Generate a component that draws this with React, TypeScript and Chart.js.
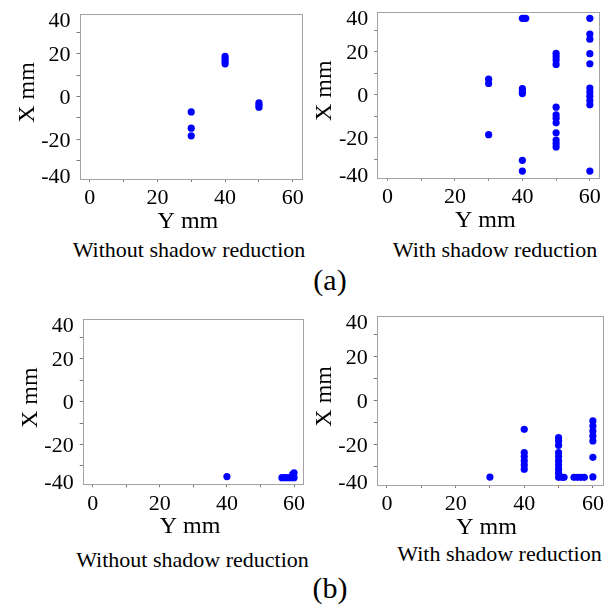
import React, { useEffect, useRef } from "react";
import { Chart, registerables } from "chart.js";

Chart.register(...registerables);

// ---------- data (horizontal axis = "Y mm", vertical axis = "X mm") ----------
const a1_Ymm = [30, 30, 30, 40, 40, 40, 40, 50, 50, 50];
const a1_Xmm = [-7.2, -14.8, -18.4, 18.8, 17.6, 16.4, 15.3, -3, -4, -5];

const a2_Ymm = [
  30, 30, 30,
  40, 40.5, 41, 40, 40, 40, 40, 40,
  50, 50, 50, 50, 50, 50, 50, 50, 50, 50, 50, 50,
  60, 60, 60, 60, 60, 60, 60, 60, 60, 60, 60,
];
const a2_Xmm = [
  7.2, 5.2, -18.6,
  35.5, 35.5, 35.5, 2.8, 1.5, 0.5, -30.5, -35.5,
  19.2, 17.7, 16.1, 14.1, -5.8, -9.4, -11, -13.1, -17.7, -21.1, -22.7, -24.3,
  35.5, 28.2, 25.8, 19.1, 14.4, 3.1, 1.2, -0.7, -2.7, -4.7, -35.5,
];

const b1_Ymm = [40, 56.4, 57.3, 58.2, 59.1, 60, 59.6, 60];
const b1_Xmm = [-35, -35.5, -35.5, -35.5, -35.5, -35.5, -34, -33.3];

const b2_Ymm = [
  30,
  40, 40, 40, 40, 40, 40,
  50, 50, 50, 50, 50, 50, 50, 50, 50, 50, 51, 51.6,
  54.5, 55.5, 56.5, 57.5,
  60, 60, 60, 60, 60, 60, 60,
];
const b2_Xmm = [
  -35,
  -13.2, -23.8, -25.6, -27.6, -29.5, -31.4,
  -17, -18.5, -20.5, -23.8, -25.6, -27.6, -29.5, -31.4, -33.2, -35.1, -35.1, -35.1,
  -35.1, -35.1, -35.1, -35.1,
  -9.4, -11.7, -14, -16.2, -18.5, -26, -34.9,
];

// axes
const xRange = [-3, 62.8];
const yRange = [-38.6, 38.6];
const xTickMarks = [0, 10, 20, 30, 40, 50, 60];
const yTickMarks = [-30, -20, -10, 0, 10, 20, 30];
const xTickLabels = [0, 20, 40, 60];
const yTickLabels = [40, 20, 0, -20, -40];
const xAxisTitle = "Y mm";
const yAxisTitle = "X mm";
const captionWithout = "Without shadow reduction";
const captionWith = "With shadow reduction";

const FONT = '"Liberation Serif", "Times New Roman", serif';

type Box = { l: number; t: number; r: number; b: number };
type Canvas = { left: number; top: number; w: number; h: number };

const panelText = {
  id: "panelText",
  afterDraw(chart: any) {
    const { ctx, chartArea: a, scales } = chart;
    const xs = scales.x;
    const ys = scales.y;
    ctx.save();
    // frame
    ctx.strokeStyle = "#a3a3a3";
    ctx.lineWidth = 1;
    ctx.strokeRect(
      Math.round(a.left) + 0.5,
      Math.round(a.top) + 0.5,
      Math.round(a.right) - Math.round(a.left),
      Math.round(a.bottom) - Math.round(a.top)
    );
    ctx.fillStyle = "#000";
    // y tick labels
    const tf = 22;
    ctx.font = `${tf}px ${FONT}`;
    ctx.textAlign = "right";
    ctx.textBaseline = "alphabetic";
    for (const v of yTickLabels) {
      let y = ys.getPixelForValue(v);
      y = Math.min(Math.max(y, a.top + 5.5), a.bottom - 3);
      ctx.fillText(String(v), a.left - 9, y + 0.34 * tf);
    }
    // x tick labels
    ctx.textAlign = "center";
    for (const v of xTickLabels) {
      ctx.fillText(String(v), xs.getPixelForValue(v), a.bottom + 18 + 0.34 * tf);
    }
    // axis titles
    const af = 24;
    ctx.font = `${af}px ${FONT}`;
    ctx.fillText(xAxisTitle, (a.left + a.right) / 2 - 3, a.bottom + 41 + 0.33 * af);
    ctx.save();
    ctx.translate(a.left - 46, (a.top + a.bottom) / 2 - 4);
    ctx.rotate(-Math.PI / 2);
    ctx.fillText(yAxisTitle, 0, 0);
    ctx.restore();
    ctx.restore();
  },
};

function Panel({ xs, ys, box, cv }: { xs: number[]; ys: number[]; box: Box; cv: Canvas }) {
  const ref = useRef<HTMLCanvasElement | null>(null);
  useEffect(() => {
    if (!ref.current) return;
    const data = xs.map((x, i) => ({ x, y: ys[i] }));
    const chart = new Chart(ref.current, {
      type: "scatter",
      data: {
        datasets: [
          {
            data,
            pointRadius: 3.6,
            pointHoverRadius: 3.6,
            pointBorderWidth: 0,
            pointBackgroundColor: "#0000ff",
            backgroundColor: "#0000ff",
            borderColor: "#0000ff",
            clip: false,
          } as any,
        ],
      },
      options: {
        responsive: false,
        animation: false,
        events: [],
        layout: {
          padding: {
            left: 0,
            bottom: 0,
            top: box.t - cv.top,
            right: cv.left + cv.w - box.r,
          },
        },
        plugins: { legend: { display: false }, tooltip: { enabled: false } },
        scales: {
          x: {
            type: "linear",
            min: xRange[0],
            max: xRange[1],
            ticks: { display: false },
            border: { display: false },
            grid: {
              display: true,
              drawOnChartArea: false,
              drawTicks: true,
              tickLength: 3,
              color: "#7a7a7a",
              tickColor: "#7a7a7a",
            },
            afterBuildTicks: (s: any) => {
              s.ticks = xTickMarks.map((v) => ({ value: v }));
            },
            afterFit: (s: any) => {
              s.height = cv.top + cv.h - box.b;
            },
          },
          y: {
            type: "linear",
            min: yRange[0],
            max: yRange[1],
            ticks: { display: false },
            border: { display: false },
            grid: {
              display: true,
              drawOnChartArea: false,
              drawTicks: true,
              tickLength: 3,
              color: "#7a7a7a",
              tickColor: "#7a7a7a",
            },
            afterBuildTicks: (s: any) => {
              s.ticks = yTickMarks.map((v) => ({ value: v }));
            },
            afterFit: (s: any) => {
              s.width = box.l - cv.left;
            },
          },
        },
      } as any,
      plugins: [panelText],
    });
    return () => chart.destroy();
  }, []);
  return (
    <canvas
      ref={ref}
      width={cv.w}
      height={cv.h}
      style={{ position: "absolute", left: cv.left, top: cv.top, width: cv.w, height: cv.h }}
    />
  );
}

function Caption({ text, cx, baseline, size }: { text: string; cx: number; baseline: number; size: number }) {
  return (
    <div
      style={{
        position: "absolute",
        left: cx - 200,
        width: 400,
        top: baseline - 0.8375 * size,
        fontSize: size,
        lineHeight: `${size}px`,
        fontFamily: FONT,
        textAlign: "center",
        whiteSpace: "nowrap",
        color: "#000",
      }}
    >
      {text}
    </div>
  );
}

export default function App() {
  return (
    <div style={{ position: "absolute", left: 0, top: 0, width: 615, height: 608, background: "#fff", overflow: "hidden" }}>
      <Panel xs={a1_Ymm} ys={a1_Xmm} box={{ l: 79.5, t: 14, r: 302.3, b: 179 }} cv={{ left: 0, top: 0, w: 307, h: 235 }} />
      <Panel xs={a2_Ymm} ys={a2_Xmm} box={{ l: 377.3, t: 11.7, r: 599.3, b: 177.7 }} cv={{ left: 307, top: 0, w: 308, h: 235 }} />
      <Panel xs={b1_Ymm} ys={b1_Xmm} box={{ l: 82.7, t: 319, r: 304, b: 484.3 }} cv={{ left: 0, top: 300, w: 307, h: 240 }} />
      <Panel xs={b2_Ymm} ys={b2_Xmm} box={{ l: 376.7, t: 315.7, r: 602.5, b: 485 }} cv={{ left: 307, top: 300, w: 308, h: 240 }} />
      <Caption text={captionWithout} cx={189} baseline={257} size={22} />
      <Caption text={captionWith} cx={495} baseline={257} size={22} />
      <Caption text="(a)" cx={330} baseline={290} size={30} />
      <Caption text={captionWithout} cx={192.5} baseline={567} size={22} />
      <Caption text={captionWith} cx={499.5} baseline={561} size={22} />
      <Caption text="(b)" cx={330} baseline={598} size={30} />
    </div>
  );
}
